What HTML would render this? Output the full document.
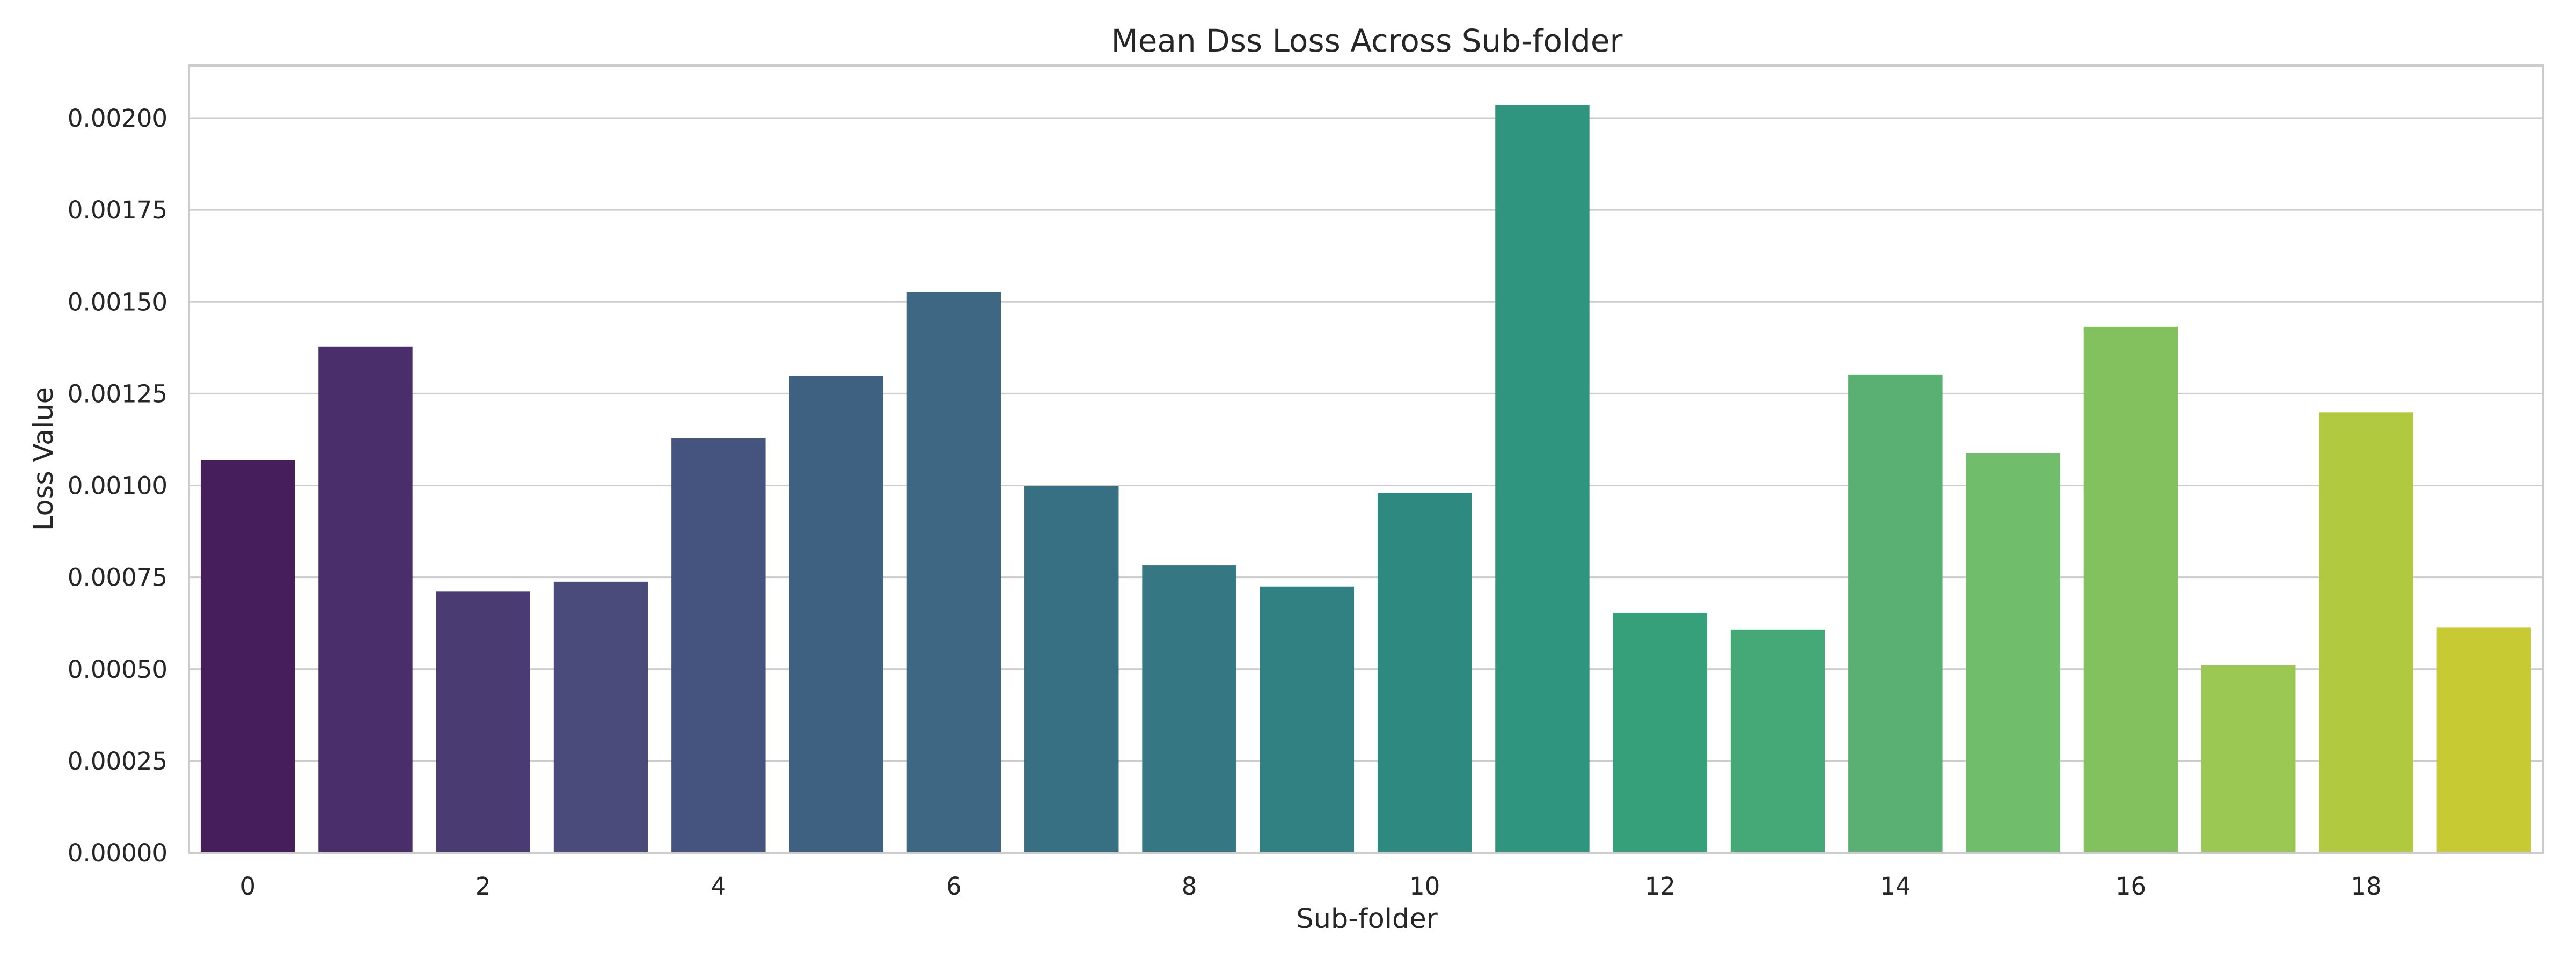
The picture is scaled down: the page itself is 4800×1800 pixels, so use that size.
<!DOCTYPE html>
<html><head><meta charset="utf-8"><style>
html,body{margin:0;padding:0;background:#fff;}
svg{display:block;font-family:"DejaVu Sans","Liberation Sans",sans-serif;}
</style></head><body>
<svg id="chart" width="4800" height="1800" viewBox="0 0 4800 1800" xmlns="http://www.w3.org/2000/svg">
<rect width="4800" height="1800" fill="#fff"/>
<g id="grid"></g>
<g id="bars"></g>
<rect x="352" y="122" width="4386" height="1467" fill="none" stroke="#cccccc" stroke-width="4"/>
<g id="yticks" font-size="45" fill="#262626" text-anchor="end"></g>
<g id="xticks" font-size="45" fill="#262626" text-anchor="middle"></g>
<text x="2547" y="96" font-size="58" fill="#262626" text-anchor="middle">Mean Dss Loss Across Sub-folder</text>
<text x="2547" y="1729" font-size="51" fill="#262626" text-anchor="middle">Sub-folder</text>
<text x="98" y="855" font-size="51" fill="#262626" text-anchor="middle" transform="rotate(-90 98 855)">Loss Value</text>
</svg>
<script>
const categories = [0,1,2,3,4,5,6,7,8,9,10,11,12,13,14,15,16,17,18,19];
const lossValues = [0.001069,0.001378,0.000711,0.000738,0.001128,0.001298,0.001526,0.000998,0.000783,0.000725,0.00098,0.002036,0.000653,0.000608,0.001302,0.001087,0.001432,0.00051,0.001199,0.000613];
const yTicks = [0,0.00025,0.0005,0.00075,0.001,0.00125,0.0015,0.00175,0.002];
const yTickLabels = ["0.00000","0.00025","0.00050","0.00075","0.00100","0.00125","0.00150","0.00175","0.00200"];
const xTickLabels = ["0","2","4","6","8","10","12","14","16","18"];
const barColors = ["#461e5b","#4a2e6c","#4a3b72","#4a4a7b","#45547f","#3f6181","#3d6783","#387083","#357883","#318082","#2e8a80","#30957e","#35a07a","#45a877","#5ab072","#70bd6c","#83c15e","#9bc852","#b1c93f","#c7ca33"];

const NS="http://www.w3.org/2000/svg";
const X0=352, X1=4738, Y0=1589, Y1=122;
const yMax=0.00214326;
const n=categories.length;
const band=(X1-X0)/n;
const xPos=i=>X0+band*(i+0.5);
const yPos=v=>Y0-(v/yMax)*(Y0-Y1);

const grid=document.getElementById('grid');
const yt=document.getElementById('yticks');
yTicks.forEach((t,i)=>{
  const l=document.createElementNS(NS,'line');
  
  
  l.setAttribute('x1',X0);l.setAttribute('x2',X1);
  l.setAttribute('y1',yPos(t));l.setAttribute('y2',yPos(t));
  l.setAttribute('stroke','#cccccc');l.setAttribute('stroke-width','3');
  grid.appendChild(l);
  const tx=document.createElementNS(NS,'text');
  
  
  tx.setAttribute('x',312);tx.setAttribute('y',yPos(t)+16);
  tx.textContent=yTickLabels[i];
  yt.appendChild(tx);
});
const bars=document.getElementById('bars');
lossValues.forEach((v,i)=>{
  const r=document.createElementNS(NS,'rect');
  
  
  const w=band*0.8;
  r.setAttribute('x',xPos(i)-w/2);r.setAttribute('width',w);
  r.setAttribute('y',yPos(v));r.setAttribute('height',Y0-yPos(v));
  r.setAttribute('fill',barColors[i]);
  bars.appendChild(r);
});
const xt=document.getElementById('xticks');
xTickLabels.forEach(lbl=>{
  const i=categories.indexOf(Number(lbl));
  const tx=document.createElementNS(NS,'text');
  
  
  tx.setAttribute('x',xPos(i));tx.setAttribute('y',1667);
  tx.textContent=lbl;
  xt.appendChild(tx);
});
</script>
</body></html>
